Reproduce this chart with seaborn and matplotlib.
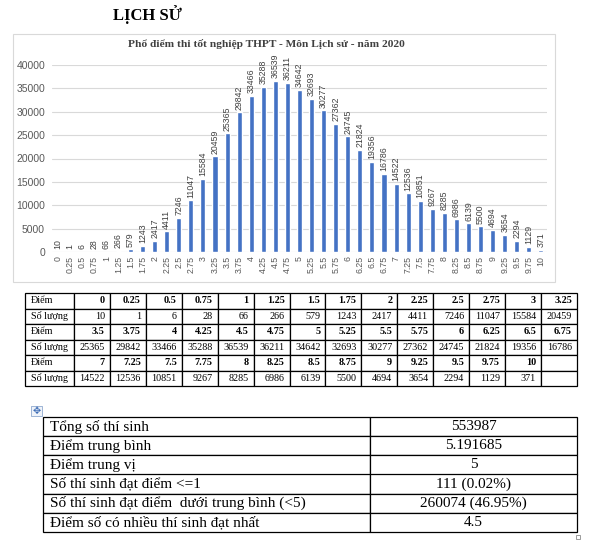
import matplotlib
matplotlib.use('Agg')
import pandas as pd
import seaborn as sns
import matplotlib.pyplot as plt
from matplotlib.patches import Rectangle

#--Data--#
scores = ['0', '0.25', '0.5', '0.75', '1', '1.25', '1.5', '1.75', '2', '2.25',
          '2.5', '2.75', '3', '3.25', '3.5', '3.75', '4', '4.25', '4.5', '4.75',
          '5', '5.25', '5.5', '5.75', '6', '6.25', '6.5', '6.75', '7', '7.25',
          '7.5', '7.75', '8', '8.25', '8.5', '8.75', '9', '9.25', '9.5', '9.75', '10']
counts = [10, 1, 6, 28, 66, 266, 579, 1243, 2417, 4411,
          7246, 11047, 15584, 20459, 25365, 29842, 33466, 35288, 36539, 36211,
          34642, 32693, 30277, 27362, 24745, 21824, 19356, 16786, 14522, 12536,
          10851, 9267, 8285, 6986, 6139, 5500, 4694, 3654, 2294, 1129, 371]
summary_labels = ['Tổng số thí sinh', 'Điểm trung bình', 'Điểm trung vị',
                  'Số thí sinh đạt điểm <=1',
                  'Số thí sinh đạt điểm  dưới trung bình (<5)',
                  'Điểm số có nhiều thí sinh đạt nhất']
summary_values = ['553987', '5.191685', '5', '111 (0.02%)', '260074 (46.95%)', '4.5']

sns.set_theme(style='white')
plt.rcParams['font.family'] = ['Liberation Sans', 'DejaVu Sans']
serif = ['Liberation Serif', 'DejaVu Serif']

W, H = 611, 546
fig = plt.figure(figsize=(W / 100, H / 100), dpi=100)
fig.patch.set_facecolor('white')


def box(x0, y0, x1, y1):
    # pixel box (top-left origin) -> figure fraction rect
    return [x0 / W, 1 - y1 / H, (x1 - x0) / W, (y1 - y0) / H]


def fx(x):
    return x / W


def fy(y):
    return 1 - y / H


#--Heading and chart frame--#
fig.text(fx(113), fy(15), 'LỊCH SỬ', ha='left', va='center', fontsize=12,
         fontweight='bold', family=serif, color='black')
fig.add_artist(Rectangle((fx(13), fy(282)), (555 - 13) / W, (282 - 34) / H,
                         transform=fig.transFigure, fill=False,
                         edgecolor='#D9D9D9', lw=0.8))
fig.text(fx(266), fy(44), 'Phổ điểm thi tốt nghiệp THPT - Môn Lịch sử - năm 2020',
         ha='center', va='center', fontsize=8.2, fontweight='bold', family=serif,
         color='#404040')

#--Bar chart--#
ax = fig.add_axes(box(52, 65, 547, 252))
df = pd.DataFrame({'Điểm': scores, 'Số lượng': counts})
sns.barplot(data=df, x='Điểm', y='Số lượng', order=scores, color='#4472C4',
            saturation=1, width=0.42, ax=ax)
ax.set_ylim(0, 40000)
ax.set_yticks(range(0, 40001, 5000))
ax.set_xlim(-0.5, len(scores) - 0.5)
ax.grid(axis='y', color='#D9D9D9', lw=0.8)
ax.set_axisbelow(True)
sns.despine(ax=ax, left=True, bottom=True)
ax.set_xlabel('')
ax.set_ylabel('')
ax.set_facecolor('white')
ax.tick_params(axis='x', labelrotation=90, labelsize=6.3, colors='#595959',
               length=0, pad=3)
ax.tick_params(axis='y', labelsize=7.5, colors='#595959', length=0, pad=5)
ax.bar_label(ax.containers[0], rotation=90, padding=2, fontsize=6.3,
             color='#404040', clip_on=False)

#--Score table--#
rows = []
for k in range(3):
    s_chunk = scores[14 * k:14 * k + 14]
    c_chunk = [str(c) for c in counts[14 * k:14 * k + 14]]
    s_chunk += [''] * (14 - len(s_chunk))
    c_chunk += [''] * (14 - len(c_chunk))
    rows.append(['Điểm'] + s_chunk)
    rows.append(['Số lượng'] + c_chunk)

tax = fig.add_axes(box(25, 293, 577, 386))
tax.axis('off')
tbl = tax.table(cellText=rows, colWidths=[49 / 552] + [35.93 / 552] * 14,
                cellLoc='right', bbox=[0, 0, 1, 1])
tbl.auto_set_font_size(False)
tbl.set_fontsize(7.3)
for (r, c), cell in tbl.get_celld().items():
    cell.set_edgecolor('black')
    cell.set_linewidth(0.9)
    t = cell.get_text()
    t.set_fontfamily(serif)
    t.set_color('black')
    if c == 0:
        cell.PAD = 0.12
        t.set_horizontalalignment('left')
    else:
        cell.PAD = 0.14
        if r % 2 == 0:
            t.set_fontweight('bold')

#--Summary table--#
fig.add_artist(Rectangle((fx(31), fy(416)), 11 / W, 10 / H, transform=fig.transFigure,
                         facecolor='#F0F4FA', edgecolor='#8FA9CF', lw=0.6))
fig.text(fx(36.5), fy(411), '✥', ha='center', va='center', fontsize=7,
         color='#3B6BB5', family='DejaVu Sans')
fig.add_artist(Rectangle((fx(576), fy(539)), 4 / W, 4 / H, transform=fig.transFigure,
                         fill=False, edgecolor='#8C8C8C', lw=0.6))

sax = fig.add_axes(box(43, 417, 577, 532))
sax.axis('off')
stbl = sax.table(cellText=[[l, v] for l, v in zip(summary_labels, summary_values)],
                 colWidths=[327 / 534, 207 / 534], cellLoc='center', bbox=[0, 0, 1, 1])
stbl.auto_set_font_size(False)
stbl.set_fontsize(11)
for (r, c), cell in stbl.get_celld().items():
    cell.set_edgecolor('black')
    cell.set_linewidth(0.9)
    t = cell.get_text()
    t.set_fontfamily(serif)
    t.set_color('black')
    if c == 0:
        cell.PAD = 0.02
        t.set_horizontalalignment('left')

plt.savefig('out.png', dpi=100, facecolor='white')
